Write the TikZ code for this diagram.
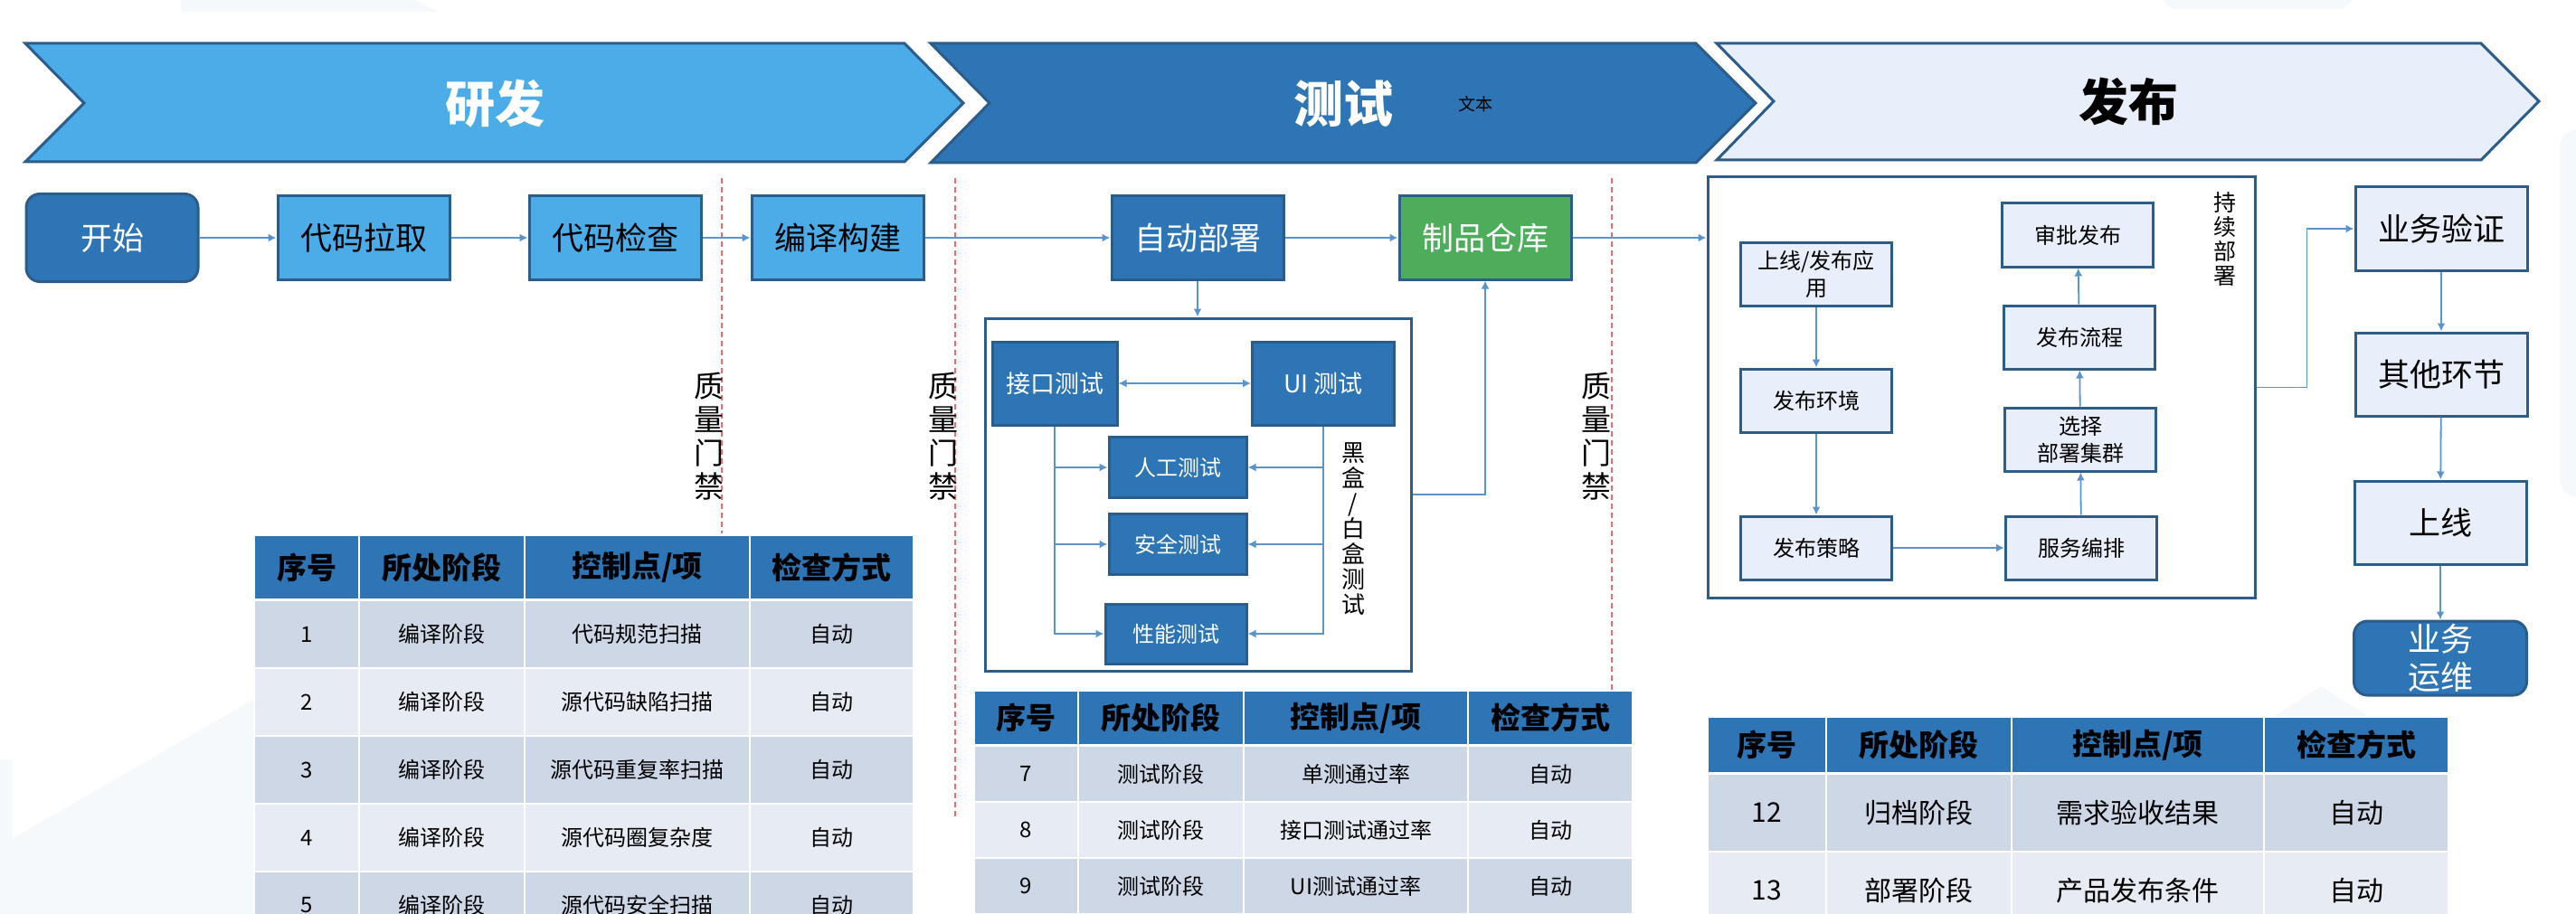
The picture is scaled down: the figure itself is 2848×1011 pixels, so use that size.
\documentclass[tikz,border=0pt]{standalone}
\usepackage{fontspec}
\setmainfont{Noto Sans CJK SC}
\usetikzlibrary{arrows.meta}
\definecolor{azulclaro}{HTML}{4BACE8}
\definecolor{azuloscuro}{HTML}{2E75B6}
\definecolor{borde}{HTML}{2B5C8A}
\definecolor{verde}{HTML}{4EAD5B}
\definecolor{palido}{HTML}{E8EEFA}
\definecolor{linea}{HTML}{5B93CC}
\definecolor{filaA}{HTML}{CDD7E6}
\definecolor{filaB}{HTML}{E7EBF4}
\definecolor{fondo}{HTML}{F6F9FC}
\definecolor{rojo}{HTML}{F26B6B}

\begin{document}
\begin{tikzpicture}[x=1pt, y=-1pt,
    titulo/.style={inner sep=0pt, font=\bfseries\fontsize{55}{60}\selectfont},
    caja/.style={draw=borde, line width=3pt, inner sep=0pt, minimum width=190, minimum height=92, font=\fontsize{35}{40}\selectfont},
    cajaclara/.style={caja, fill=azulclaro},
    cajaoscura/.style={caja, fill=azuloscuro, text=white},
    cajapalida/.style={caja, fill=palido},
    marco/.style={draw=borde, line width=3pt, fill=white, inner sep=0pt},
    prueba/.style={cajaoscura, minimum width=152, minimum height=67, font=\fontsize{24}{28}\selectfont},
    paso/.style={cajapalida, minimum width=167, minimum height=70, align=center, font=\fontsize{24}{30}\selectfont},
    vertical/.style={inner sep=0pt, align=center, font=\fontsize{33}{37}\selectfont},
    puerta/.style={draw=rojo, line width=1.5pt, dash pattern=on 6pt off 4pt},
    flecha/.style={draw=linea, line width=1.8pt, -{Latex[length=9pt,width=9pt]}},
    flechadoble/.style={flecha, {Latex[length=9pt,width=9pt]}-{Latex[length=9pt,width=9pt]}},
    cabecera/.style={draw=white, line width=2.5pt, fill=azuloscuro, inner sep=0pt, font=\bfseries\fontsize{33}{38}\selectfont},
    celda/.style={draw=white, line width=2.5pt, inner sep=0pt, font=\fontsize{24}{28}\selectfont}
]
    \clip (0,0) rectangle (2848,1011);

    % Fondo
    \fill[fondo] (0,840) -- (13,840) -- (13,928) -- (281,773) -- (281,1011) -- (0,1011) -- cycle;
    \fill[fondo] (200,0) -- (460,0) -- (484,13) -- (200,13) -- cycle;
    \fill[fondo] (2391,0) -- (2601,0) -- (2590,10) -- (2400,10) -- cycle;
    \fill[fondo, rounded corners=20pt] (2830,143) rectangle (2890,550);
    \fill[fondo] (2513,793) -- (2566,759) -- (2620,793) -- cycle;

    % Fases
    \filldraw[fill=azulclaro, draw=borde, line width=3pt] (28,48) -- (1000,48) -- (1065,114) -- (1000,179) -- (28,179) -- (93,114) -- cycle;
    \filldraw[fill=azuloscuro, draw=borde, line width=3pt] (1029,48) -- (1875,48) -- (1941,114) -- (1875,180) -- (1029,180) -- (1094,114) -- cycle;
    \filldraw[fill=palido, draw=borde, line width=3pt] (1898,48) -- (2743,48) -- (2807,112) -- (2743,177) -- (1898,177) -- (1961,112) -- cycle;
    \node[titulo, text=white] (fase1) at (547,115) {研发};
    \node[titulo, text=white] (fase2) at (1485,115) {测试};
    \node[inner sep=0pt, font=\fontsize{19}{22}\selectfont] (nota) at (1631,115) {文本};
    \node[titulo] (fase3) at (2353,112) {发布};

    % Puertas de calidad
    \draw[puerta] (798,197) -- (798,590);
    \draw[puerta] (1056,197) -- (1056,903);
    \draw[puerta] (1782,197) -- (1782,763);
    \node[vertical] (puerta1) at (784,483) {质\\量\\门\\禁};
    \node[vertical] (puerta2) at (1043,483) {质\\量\\门\\禁};
    \node[vertical] (puerta3) at (1765,483) {质\\量\\门\\禁};

    % Flujo principal
    \node[cajaoscura, rounded corners=15pt, minimum height=97] (inicio) at (124,263) {开始};
    \node[cajaclara] (extraer) at (402,263) {代码拉取};
    \node[cajaclara] (revisar) at (680,263) {代码检查};
    \node[cajaclara] (compilar) at (926,263) {编译构建};
    \node[cajaoscura] (desplegar) at (1324,263) {自动部署};
    \node[caja, fill=verde, text=white] (almacen) at (1642,263) {制品仓库};

    % Pruebas
    \node[marco, minimum width=471, minimum height=390] (pruebas) at (1325,547) {};
    \node[cajaoscura, minimum width=138, font=\fontsize{27}{30}\selectfont] (interfaz) at (1166,424) {接口测试};
    \node[cajaoscura, minimum width=157, font=\fontsize{27}{30}\selectfont] (pruebaui) at (1463,424) {UI 测试};
    \node[prueba] (manual) at (1302,517) {人工测试};
    \node[prueba] (seguridad) at (1302,602) {安全测试};
    \node[prueba, minimum width=156, minimum height=66] (rendimiento) at (1300,701) {性能测试};
    \node[vertical, font=\fontsize{26}{28}\selectfont] (cajas) at (1496,585) {黑\\盒\\/\\白\\盒\\测\\试};

    % Despliegue continuo
    \node[marco, minimum width=605, minimum height=465] (continuo) at (2190.5,428.5) {};
    \node[vertical, font=\fontsize{25}{27}\selectfont] (etiqueta) at (2460,264) {持\\续\\部\\署};
    \node[paso] (subir) at (2008,303) {上线/发布应\\用};
    \node[paso] (entorno) at (2008,443) {发布环境};
    \node[paso] (estrategia) at (2008,606) {发布策略};
    \node[paso] (orquestar) at (2301,606) {服务编排};
    \node[paso] (cluster) at (2300,486) {选择\\部署集群};
    \node[paso] (flujo) at (2299,373) {发布流程};
    \node[paso] (aprobar) at (2297,260) {审批发布};

    % Cierre
    \node[cajapalida] (validar) at (2699,253) {业务验证};
    \node[cajapalida] (otros) at (2699,414) {其他环节};
    \node[cajapalida] (lanzar) at (2698,578) {上线};
    \node[cajaoscura, rounded corners=15pt, minimum width=191, minimum height=82, align=center, font=\fontsize{36}{42}\selectfont] (operar) at (2698,728) {业务\\运维};

    % Flechas
    \draw[flecha] (inicio) -- (extraer);
    \draw[flecha] (extraer) -- (revisar);
    \draw[flecha] (revisar) -- (compilar);
    \draw[flecha] (compilar) -- (desplegar);
    \draw[flecha] (desplegar) -- (almacen);
    \draw[flecha] (almacen.east) -- (almacen.east -| continuo.west);
    \draw[flecha] (desplegar.south) -- (desplegar.south |- pruebas.north);
    \draw[flecha] (pruebas.east) -| (almacen.south);
    \draw[flechadoble] (interfaz) -- (pruebaui);
    \foreach \b in {manual, seguridad, rendimiento} {
        \draw[flecha] (interfaz.south) |- (\b.west);
        \draw[flecha] (pruebaui.south) |- (\b.east);
    }
    \draw[flecha] (subir) -- (entorno);
    \draw[flecha] (entorno) -- (estrategia);
    \draw[flecha] (estrategia) -- (orquestar);
    \draw[flecha] (orquestar) -- (cluster);
    \draw[flecha] (cluster) -- (flujo);
    \draw[flecha] (flujo) -- (aprobar);
    \draw[flecha] (continuo.east) -- ++(56,0) |- (validar.west);
    \draw[flecha] (validar) -- (otros);
    \draw[flecha] (otros) -- (lanzar);
    \draw[flecha] (lanzar) -- (operar);

    % Tabla 1
    \foreach \xa/\xb/\txt [count=\c] in {281/397/序号, 397/580/所处阶段, 580/829/{控制点/项}, 829/1010/检查方式}
        \node[cabecera, minimum width=\xb-\xa, minimum height=71] (ta-0-\c) at ({(\xa+\xb)/2},627.5) {\txt};
    \foreach \n/\fase/\punto [count=\i] in {1/编译阶段/代码规范扫描, 2/编译阶段/源代码缺陷扫描, 3/编译阶段/源代码重复率扫描, 4/编译阶段/源代码圈复杂度, 5/编译阶段/源代码安全扫描} {
        \ifodd\i\relax \def\tono{filaA}\else \def\tono{filaB}\fi
        \pgfmathsetmacro{\yc}{701.5+75*(\i-1)}
        \node[celda, fill=\tono, minimum width=116, minimum height=75] (ta-\i-1) at (339,\yc) {\n};
        \node[celda, fill=\tono, minimum width=183, minimum height=75] (ta-\i-2) at (488.5,\yc) {\fase};
        \node[celda, fill=\tono, minimum width=249, minimum height=75] (ta-\i-3) at (704.5,\yc) {\punto};
        \node[celda, fill=\tono, minimum width=181, minimum height=75] (ta-\i-4) at (919.5,\yc) {自动};
    }

    % Tabla 2
    \foreach \xa/\xb/\txt [count=\c] in {1077/1192/序号, 1192/1375/所处阶段, 1375/1623/{控制点/项}, 1623/1805/检查方式}
        \node[cabecera, minimum width=\xb-\xa, minimum height=60] (tb-0-\c) at ({(\xa+\xb)/2},794) {\txt};
    \foreach \n/\fase/\punto [count=\i] in {7/测试阶段/单测通过率, 8/测试阶段/接口测试通过率, 9/测试阶段/UI测试通过率} {
        \ifodd\i\relax \def\tono{filaA}\else \def\tono{filaB}\fi
        \pgfmathsetmacro{\yc}{856+62*(\i-1)}
        \node[celda, fill=\tono, minimum width=115, minimum height=62] (tb-\i-1) at (1134.5,\yc) {\n};
        \node[celda, fill=\tono, minimum width=183, minimum height=62] (tb-\i-2) at (1283.5,\yc) {\fase};
        \node[celda, fill=\tono, minimum width=248, minimum height=62] (tb-\i-3) at (1499,\yc) {\punto};
        \node[celda, fill=\tono, minimum width=182, minimum height=62] (tb-\i-4) at (1714,\yc) {自动};
    }

    % Tabla 3
    \foreach \xa/\xb/\txt [count=\c] in {1888/2019/序号, 2019/2224/所处阶段, 2224/2503/{控制点/项}, 2503/2707/检查方式}
        \node[cabecera, minimum width=\xb-\xa, minimum height=62] (tc-0-\c) at ({(\xa+\xb)/2},824) {\txt};
    \foreach \n/\fase/\punto [count=\i] in {12/归档阶段/需求验收结果, 13/部署阶段/产品发布条件} {
        \ifodd\i\relax \def\tono{filaA}\else \def\tono{filaB}\fi
        \pgfmathsetmacro{\yc}{899+86*(\i-1)}
        \node[celda, fill=\tono, font=\fontsize{30}{34}\selectfont, minimum width=131, minimum height=86] (tc-\i-1) at (1953.5,\yc) {\n};
        \node[celda, fill=\tono, font=\fontsize{30}{34}\selectfont, minimum width=205, minimum height=86] (tc-\i-2) at (2121.5,\yc) {\fase};
        \node[celda, fill=\tono, font=\fontsize{30}{34}\selectfont, minimum width=279, minimum height=86] (tc-\i-3) at (2363.5,\yc) {\punto};
        \node[celda, fill=\tono, font=\fontsize{30}{34}\selectfont, minimum width=204, minimum height=86] (tc-\i-4) at (2605,\yc) {自动};
    }
\end{tikzpicture}
\end{document}
